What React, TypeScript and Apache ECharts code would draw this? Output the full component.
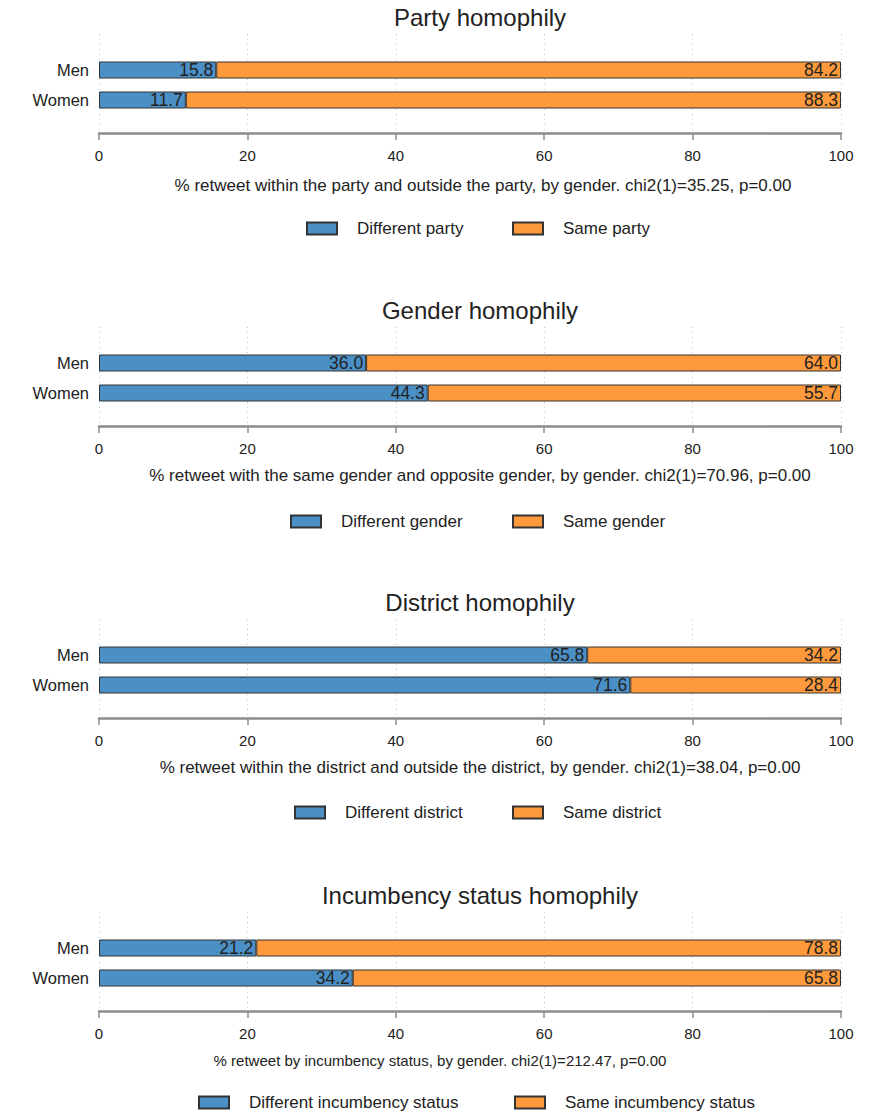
import React, { useEffect, useRef } from "react";
import * as echarts from "echarts";

const panelTitles = [
  "Party homophily",
  "Gender homophily",
  "District homophily",
  "Incumbency status homophily",
];
const axisNames = [
  "% retweet within the party and outside the party, by gender. chi2(1)=35.25, p=0.00",
  "% retweet with the same gender and opposite gender, by gender. chi2(1)=70.96, p=0.00",
  "% retweet within the district and outside the district, by gender. chi2(1)=38.04, p=0.00",
  "% retweet by incumbency status, by gender. chi2(1)=212.47, p=0.00",
];
const diffNames = [
  "Different party",
  "Different gender",
  "Different district",
  "Different incumbency status",
];
const sameNames = ["Same party", "Same gender", "Same district", "Same incumbency status"];
const categories = ["Men", "Women"];
const diffValues = [
  [15.8, 11.7],
  [36.0, 44.3],
  [65.8, 71.6],
  [21.2, 34.2],
];
const sameValues = [
  [84.2, 88.3],
  [64.0, 55.7],
  [34.2, 28.4],
  [78.8, 65.8],
];
const xMin = 0;
const xMax = 100;
const xInterval = 20;

// layout (positions only)
const panelBase = [0, 293, 585, 878];
const nameCenter = [483, 480, 480, 440];
const nameSize = [17, 17, 17, 15];
const nameTop = [177, 174, 174, 175];
const legendTop = [220, 220, 219, 216];
const legendLeftDiff = [306, 290, 294, 198];
const legendLeftSame = [512, 512, 512, 514];

const FONT = "'Liberation Sans', Arial, sans-serif";
const BLUE = "#4a8fc5";
const ORANGE = "#fe9a3c";
const TEXT = "#222";

function buildOption() {
  const grid: any[] = [];
  const xAxis: any[] = [];
  const yAxis: any[] = [];
  const series: any[] = [];
  const title: any[] = [];
  const legend: any[] = [];

  panelTitles.forEach((t, i) => {
    const b = panelBase[i];
    // grid for gridlines + visible x axis
    const gA = grid.length;
    grid.push({ left: 99, width: 742, top: b + 34, height: 99 });
    xAxis.push({
      gridIndex: gA,
      type: "value",
      min: xMin,
      max: xMax,
      interval: xInterval,
      axisLine: { show: true, lineStyle: { color: "#8c8c8c", width: 2.5 } },
      axisTick: { show: true, length: 7, lineStyle: { color: "#8c8c8c", width: 1.5 } },
      axisLabel: { fontSize: 15, color: TEXT, fontFamily: FONT, margin: 15 },
      splitLine: { show: true, lineStyle: { color: "#c8c8c8", type: [1, 4], width: 1 } },
    });
    yAxis.push({ gridIndex: gA, type: "value", show: false, min: 0, max: 1 });

    // grid for bars
    const gB = grid.length;
    grid.push({ left: 99, width: 742, top: b + 55, height: 60 });
    xAxis.push({ gridIndex: gB, type: "value", min: xMin, max: xMax, show: false });
    yAxis.push({
      gridIndex: gB,
      type: "category",
      inverse: true,
      data: categories,
      axisLine: { show: false },
      axisTick: { show: false },
      splitLine: { show: false },
      axisLabel: { fontSize: 16.5, color: TEXT, fontFamily: FONT, margin: 10 },
    });

    const label = {
      show: true,
      position: "insideRight",
      distance: 3,
      color: TEXT,
      fontSize: 17.5,
      fontFamily: FONT,
      formatter: (p: any) => Number(p.value).toFixed(1),
    };
    series.push({
      type: "bar",
      name: diffNames[i],
      xAxisIndex: gB,
      yAxisIndex: gB,
      stack: "s" + i,
      barWidth: 17,
      data: diffValues[i],
      itemStyle: { color: BLUE, borderColor: "#333", borderWidth: 1 },
      label,
    });
    series.push({
      type: "bar",
      name: sameNames[i],
      xAxisIndex: gB,
      yAxisIndex: gB,
      stack: "s" + i,
      barWidth: 17,
      data: sameValues[i],
      itemStyle: { color: ORANGE, borderColor: "#333", borderWidth: 1 },
      label,
    });

    title.push({
      text: t,
      left: 480,
      textAlign: "center",
      top: b + 5,
      padding: 0,
      textStyle: { fontSize: 24, fontWeight: "normal", color: TEXT, fontFamily: FONT },
    });
    title.push({
      text: axisNames[i],
      left: nameCenter[i],
      textAlign: "center",
      top: b + nameTop[i],
      padding: 0,
      textStyle: { fontSize: nameSize[i], fontWeight: "normal", color: TEXT, fontFamily: FONT },
    });

    const legendCommon = {
      orient: "horizontal",
      top: b + legendTop[i],
      padding: 0,
      itemWidth: 30,
      itemHeight: 12,
      itemGap: 0,
      icon: "rect",
      selectedMode: false,
      textStyle: { fontSize: 17, color: TEXT, fontFamily: FONT, padding: [0, 0, 0, 15] },
    };
    legend.push({ ...legendCommon, left: legendLeftDiff[i], data: [diffNames[i]] });
    legend.push({ ...legendCommon, left: legendLeftSame[i], data: [sameNames[i]] });
  });

  return {
    animation: false,
    backgroundColor: "#fff",
    textStyle: { fontFamily: FONT },
    title,
    legend,
    grid,
    xAxis,
    yAxis,
    series,
  };
}

export default function App() {
  const ref = useRef<HTMLDivElement>(null);
  useEffect(() => {
    if (!ref.current) return;
    const chart = echarts.init(ref.current, undefined, { renderer: "svg" });
    chart.setOption(buildOption() as any);
    return () => chart.dispose();
  }, []);
  return (
    <div
      ref={ref}
      style={{ position: "absolute", left: 0, top: 0, width: 869, height: 1113, background: "#fff" }}
    />
  );
}
